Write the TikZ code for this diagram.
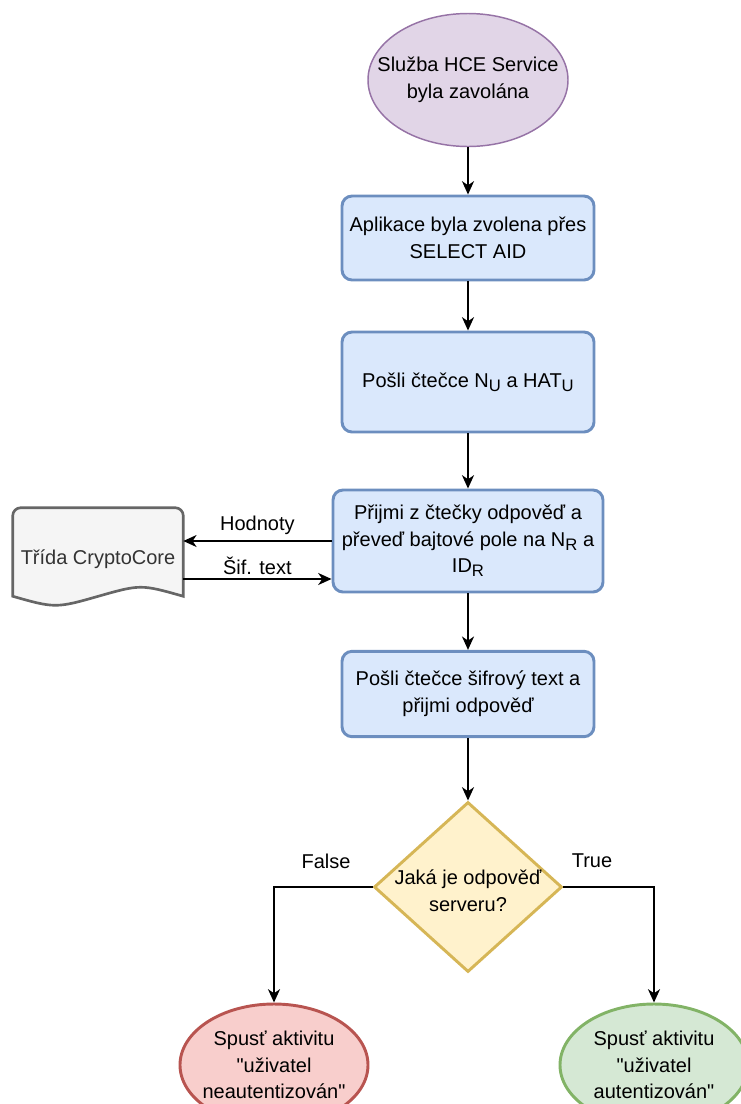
\documentclass[tikz,border=0pt]{standalone}
\usepackage{fontspec}
\setmainfont{Liberation Sans}
\usetikzlibrary{shapes.geometric,arrows.meta}

\definecolor{startfill}{HTML}{E1D5E7}
\definecolor{startline}{HTML}{9673A6}
\definecolor{stepfill}{HTML}{DAE8FC}
\definecolor{stepline}{HTML}{6C8EBF}
\definecolor{askfill}{HTML}{FFF2CC}
\definecolor{askline}{HTML}{D6B656}
\definecolor{failfill}{HTML}{F8CECC}
\definecolor{failline}{HTML}{B85450}
\definecolor{okfill}{HTML}{D5E8D4}
\definecolor{okline}{HTML}{82B366}
\definecolor{docfill}{HTML}{F5F5F5}
\definecolor{docline}{HTML}{666666}
\definecolor{doctext}{HTML}{333333}

% lowered index as in the flow chart
\newcommand{\lowidx}[1]{\raisebox{-3pt}{\fontsize{12.5}{12}\selectfont #1}}

\begin{document}
\begin{tikzpicture}[x=0.75pt,y=-0.75pt,
	every node/.style={font=\fontsize{15}{20}\selectfont},
	startnode/.style={ellipse,draw=startline,fill=startfill,line width=1.1pt,minimum width=150pt,minimum height=99.75pt,inner sep=0pt},
	stepbox/.style={rectangle,rounded corners=7.5pt,draw=stepline,fill=stepfill,line width=2.2pt,minimum width=189pt,align=center},
	decision/.style={diamond,draw=askline,fill=askfill,line width=2.2pt,minimum width=141pt,minimum height=127.5pt,inner sep=0pt},
	endnode/.style={ellipse,line width=2.2pt,minimum width=141pt,minimum height=91.5pt,inner sep=0pt},
	docnode/.style={rectangle,minimum width=127.5pt,minimum height=76.5pt,text=doctext},
	docbox/.style={draw=docline,fill=docfill,line width=2pt},
	arr/.style={-{Stealth[length=10pt,width=9pt,inset=3pt]},line width=1.25pt}]
	
	% Fix the size of the picture
	\useasboundingbox (0,0) rectangle (740,1104);
	
	% Define the steps of the flow
	\node[startnode,label={[align=center]center:Služba HCE Service\\byla zavolána}] (start) at (468,80) {};
	\node[stepbox,minimum height=63pt] (select) at (468,238) {Aplikace byla zvolena přes\\SELECT AID};
	\node[stepbox,minimum height=75pt] (sendNU) at (468,382) {Pošli čtečce N\lowidx{U} a HAT\lowidx{U}};
	\node[stepbox,minimum width=202.5pt,minimum height=76.5pt] (receive) at (468,541) {Přijmi z čtečky odpověď a\\převeď bajtové pole na N\lowidx{R} a\\ID\lowidx{R}};
	\node[stepbox,minimum height=64pt] (sendCipher) at (468,694) {Pošli čtečce šifrový text a\\přijmi odpověď};
	\node[decision,label={[align=center,yshift=-3pt]center:Jaká je odpověď\\serveru?}] (answer) at (468,887) {};
	\node[endnode,draw=failline,fill=failfill,label={[align=center]center:Spusť aktivitu\\\textquotedbl uživatel\\neautentizován\textquotedbl}] (fail) at (274,1065) {};
	\node[endnode,draw=okline,fill=okfill,label={[align=center]center:Spusť aktivitu\\\textquotedbl uživatel\\autentizován\textquotedbl}] (success) at (654,1065) {};
	\node (falseLbl) at (326,861) {False};
	\node (trueLbl) at (592,861) {True};
	
	% Draw the document shape of the crypto class
	\node[docnode] (core) at (98,559) {};
	\coordinate (dl) at ([yshift=10.5pt]core.south west);
	\coordinate (dr) at ([yshift=10.5pt]core.south east);
	\draw[docbox] (dl) [rounded corners=6pt] -- (core.north west) -- (core.north east) [sharp corners] -- (dr)
		.. controls +(-42,-12) and +(42,-12) .. ++(-85,0)
		.. controls +(-42,12) and +(42,12) .. (dl) -- cycle;
	\node[docnode] at (core) {Třída CryptoCore};
	
	% Draw the arrows between the steps
	\draw[arr] (start.south) -- (select.north);
	\draw[arr] (select.south) -- (sendNU.north);
	\draw[arr] (sendNU.south) -- (receive.north);
	\draw[arr] (receive.south) -- (sendCipher.north);
	\draw[arr] (sendCipher.south) -- (answer.north);
	\draw[arr] (answer.west) -| (fail.north);
	\draw[arr] (answer.east) -| (success.north);
	
	% Draw the arrows to and from the crypto class
	\coordinate (sifStart) at ([yshift=-15pt]core.east);
	\draw[arr] (receive.west) -- (receive.west -| core.east) node[midway,above=1pt] {Hodnoty};
	\draw[arr] (sifStart) -- (sifStart -| receive.west) node[midway,above=-1pt] {Šif. text};
\end{tikzpicture}
\end{document}
